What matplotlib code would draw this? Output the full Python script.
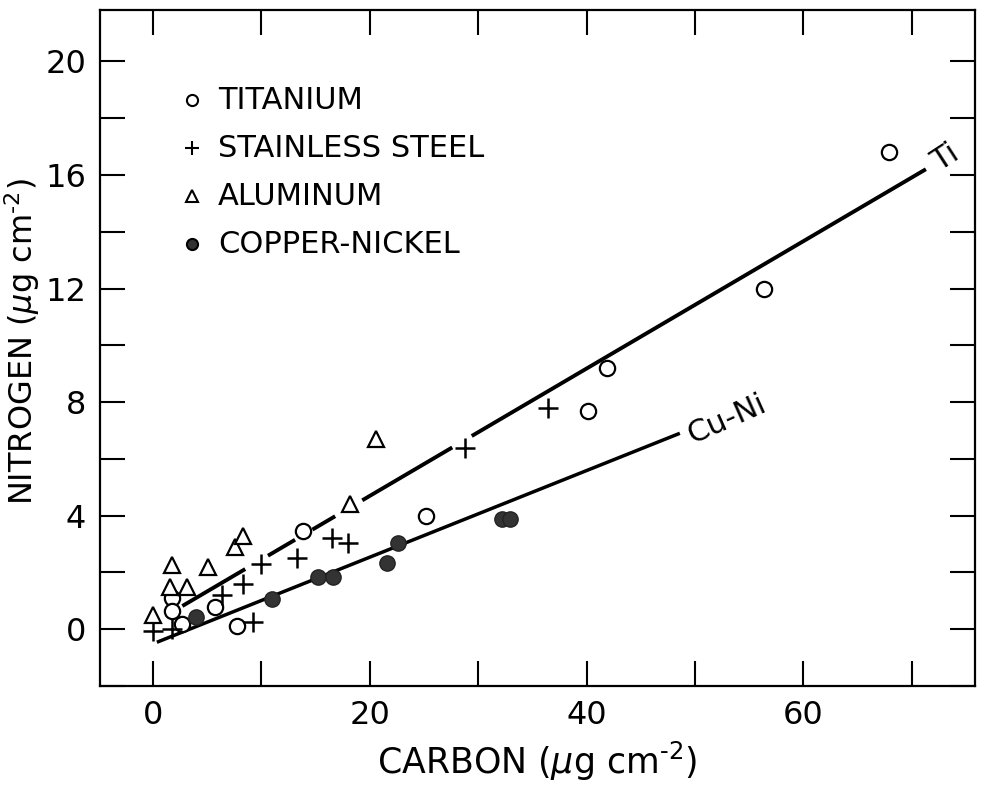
import matplotlib
matplotlib.use("Agg")
import matplotlib.pyplot as plt
from matplotlib.ticker import MultipleLocator

plt.rcParams['font.family'] = ['DejaVu Sans']
plt.rcParams['mathtext.fontset'] = 'dejavusans'

# data (carbon, nitrogen in ug cm-2)
ti_c = [1.7, 1.7, 2.7, 5.7, 7.7, 13.8, 25.2, 40.1, 41.9, 56.4, 67.9]
ti_n = [1.1, 0.65, 0.2, 0.8, 0.1, 3.45, 4.0, 7.7, 9.2, 12.0, 16.8]

ss_c = [0.0, 1.7, 9.2, 6.4, 8.3, 10.0, 13.3, 16.5, 18.0, 28.8, 36.4]
ss_n = [-0.05, 0.0, 0.25, 1.2, 1.6, 2.3, 2.5, 3.2, 3.05, 6.4, 7.8]

al_c = [0.0, 1.7, 1.6, 3.1, 5.1, 7.6, 8.3, 18.2, 20.6]
al_n = [0.5, 2.25, 1.5, 1.5, 2.2, 2.9, 3.3, 4.4, 6.7]

cu_c = [4.0, 11.0, 15.2, 16.6, 21.6, 22.6, 32.2, 32.9]
cu_n = [0.45, 1.05, 1.85, 1.85, 2.35, 3.05, 3.9, 3.9]

# fitted lines: N = a + b*C
ti_fit = (0.215, 0.2242)
ti_segments = [(2.7, 8.5), (10.6, 13.1), (14.7, 16.8), (19.3, 27.6), (29.4, 71.3)]
cu_fit = (-0.51, 0.1525)
cu_range = (0.35, 48.6)

fig = plt.figure(figsize=(9.85, 7.85), dpi=100)
ax = fig.add_axes([0.1015, 0.126, 0.888, 0.861])

# lines first
for x0, x1 in ti_segments:
    ax.plot([x0, x1], [ti_fit[0] + ti_fit[1] * x0, ti_fit[0] + ti_fit[1] * x1],
            color='black', lw=2.8, solid_capstyle='butt', zorder=2)
ax.plot(list(cu_range), [cu_fit[0] + cu_fit[1] * x for x in cu_range],
        color='black', lw=2.5, solid_capstyle='butt', zorder=2)

# points
ax.plot(ti_c, ti_n, 'o', ms=11, mfc='white', mec='black', mew=1.6, ls='none', zorder=3)
ax.plot(ss_c, ss_n, '+', ms=14, mec='black', mew=1.8, ls='none', zorder=3)
ax.plot(al_c, al_n, '^', ms=12, mfc='white', mec='black', mew=1.6, ls='none', zorder=3)
ax.plot(cu_c, cu_n, 'o', ms=11, mfc='#333333', mec='#222222', mew=1.0, ls='none', zorder=3)

# line labels
ax.text(73.1, 16.6, 'Ti', fontsize=22, rotation=33, ha='center', va='center')
ax.text(52.9, 7.4, 'Cu-Ni', fontsize=22, rotation=24, ha='center', va='center')

# legend drawn by hand
legend_items = [('o', 'white', 'TITANIUM'), ('+', 'black', 'STAINLESS STEEL'),
                ('^', 'white', 'ALUMINUM'), ('o', '#333333', 'COPPER-NICKEL')]
for i, (m, fc, lab) in enumerate(legend_items):
    yy = 0.867 - i * 0.071
    ax.plot([0.105], [yy], m, ms=8 if m != '+' else 10, mfc=fc, mec='black',
            mew=1.5, transform=ax.transAxes)
    ax.text(0.135, yy, lab, fontsize=22, va='center', ha='left', transform=ax.transAxes)

ax.set_xlim(-4.9, 75.8)
ax.set_ylim(-2, 21.8)
ax.xaxis.set_major_locator(MultipleLocator(20))
ax.xaxis.set_minor_locator(MultipleLocator(10))
ax.yaxis.set_major_locator(MultipleLocator(4))
ax.yaxis.set_minor_locator(MultipleLocator(2))
ax.tick_params(which='both', direction='in', length=18, width=1.5,
               top=True, right=True, labelsize=23, pad=10)

for s in ax.spines.values():
    s.set_linewidth(1.6)

ax.set_xlabel(r'CARBON ($\mu$g cm$^{\text{-2}}$)', fontsize=25, labelpad=6)
ax.set_ylabel(r'NITROGEN ($\mu$g cm$^{\text{-2}}$)', fontsize=23)
ax.yaxis.set_label_coords(-0.066, 0.51)

fig.savefig('out.png', dpi=100)
